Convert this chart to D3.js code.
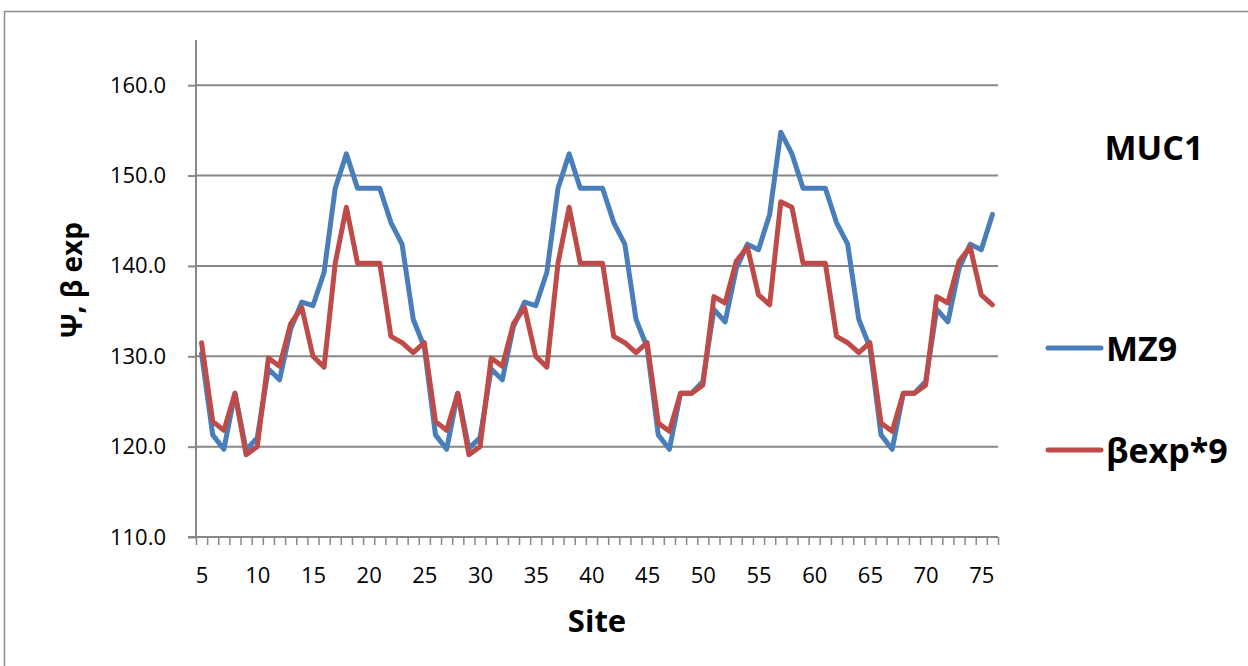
<!DOCTYPE html>
<html>
<head>
<meta charset="utf-8">
<script src="https://cdn.jsdelivr.net/npm/d3@7"></script>
<style>
  html, body { margin: 0; padding: 0; background: #fff; }
  svg { display: block; }
  text { font-family: "Open Sans", "Liberation Sans", sans-serif; fill: #000; }
</style>
</head>
<body>
<svg id="chart" width="1248" height="666"></svg>
<script>
// ---- data ----
const sites = d3.range(5, 77); // 5..76
const mz9 = [
  130.3, 121.3, 119.7, 125.9, 119.6, 121.0, 128.6, 127.4, 133.0, 136.0,
  135.6, 139.3, 148.6, 152.4, 148.6, 148.6, 148.6, 144.8, 142.4, 134.1,
  131.0, 121.3, 119.7, 125.9, 119.8, 121.0, 128.6, 127.4, 133.3, 136.0,
  135.6, 139.3, 148.6, 152.4, 148.6, 148.6, 148.6, 144.8, 142.4, 134.1,
  131.0, 121.3, 119.7, 125.9, 125.9, 127.2, 135.2, 133.8, 139.7, 142.4,
  141.8, 145.7, 154.8, 152.4, 148.6, 148.6, 148.6, 144.8, 142.4, 134.1,
  131.0, 121.3, 119.7, 125.9, 125.9, 127.2, 135.2, 133.8, 139.7, 142.4,
  141.8, 145.7
];
const bexp9 = [
  131.5, 122.8, 121.8, 125.9, 119.1, 120.0, 129.8, 128.9, 133.6, 135.4,
  130.0, 128.8, 140.3, 146.5, 140.3, 140.3, 140.3, 132.2, 131.5, 130.4,
  131.5, 122.8, 121.8, 125.9, 119.1, 120.0, 129.8, 128.9, 133.6, 135.4,
  130.0, 128.8, 140.3, 146.5, 140.3, 140.3, 140.3, 132.2, 131.5, 130.4,
  131.5, 122.6, 121.7, 125.9, 125.9, 126.8, 136.6, 135.9, 140.5, 142.1,
  136.8, 135.7, 147.1, 146.5, 140.3, 140.3, 140.3, 132.2, 131.5, 130.4,
  131.5, 122.6, 121.7, 125.9, 125.9, 126.8, 136.6, 135.9, 140.5, 142.1,
  136.8, 135.7
];
const yTicks = [110, 120, 130, 140, 150, 160];
const xTickLabels = [5, 10, 15, 20, 25, 30, 35, 40, 45, 50, 55, 60, 65, 70, 75];
const seriesNames = ["MZ9", "βexp*9"];
const seriesColors = ["#4a7ebb", "#be4b48"];
const chartTitle = "MUC1";
const xTitle = "Site";
const yTitle = "Ψ, β exp";

// ---- layout ----
const svg = d3.select("#chart");
const plotL = 196, plotR = 998, plotT = 40, plotB = 537;

const x = d3.scaleLinear().domain([4.5, 76.5]).range([plotL, plotR]);
const y = d3.scaleLinear().domain([110, 165]).range([plotB, plotT]);

// outer border
svg.append("rect")
  .attr("x", 4.5).attr("y", 11.5)
  .attr("width", 1260).attr("height", 680)
  .attr("fill", "none").attr("stroke", "#8c8c8c").attr("stroke-width", 1.5);

// gridlines
svg.append("g").selectAll("line").data(yTicks.filter(t => t !== 110)).join("line")
  .attr("x1", plotL).attr("x2", plotR)
  .attr("y1", d => y(d)).attr("y2", d => y(d))
  .attr("stroke", "#878787").attr("stroke-width", 2);

// y axis
const yAxis = d3.axisLeft(y).tickValues(yTicks).tickSize(8).tickPadding(22)
  .tickFormat(d3.format(".1f"));
const gy = svg.append("g").attr("transform", `translate(${plotL},0)`).call(yAxis);
gy.select(".domain").attr("stroke", "#878787").attr("stroke-width", 2)
  .attr("d", `M-8,${plotB}H0V${plotT}`);
gy.selectAll(".tick line").attr("stroke", "#878787").attr("stroke-width", 2);
gy.selectAll(".tick text").attr("font-size", 22).attr("font-family", "Open Sans").attr("fill", "#000");

// x axis: category ticks at boundaries
const boundaries = d3.range(4.5, 77, 1);
const xAxisTicks = d3.axisBottom(x).tickValues(boundaries).tickSize(8).tickFormat("");
const gx = svg.append("g").attr("transform", `translate(0,${plotB})`).call(xAxisTicks);
gx.select(".domain").attr("stroke", "#878787").attr("stroke-width", 2)
  .attr("d", `M${plotL},0H${plotR}`);
gx.selectAll(".tick line").attr("stroke", "#878787").attr("stroke-width", 1.5);

const xLabels = d3.axisBottom(x).tickValues(xTickLabels).tickSize(0).tickPadding(30);
const gxl = svg.append("g").attr("transform", `translate(0,${plotB})`).call(xLabels);
gxl.select(".domain").remove();
gxl.selectAll(".tick text").attr("font-size", 22).attr("font-family", "Open Sans").attr("fill", "#000");

// lines
const series = [mz9, bexp9];
const line = d3.line().x((d, i) => x(sites[i])).y(d => y(d));
series.forEach((s, k) => {
  svg.append("path").datum(s)
    .attr("d", line)
    .attr("fill", "none")
    .attr("stroke", seriesColors[k])
    .attr("stroke-width", 5)
    .attr("stroke-linejoin", "round")
    .attr("stroke-linecap", "round");
});

// titles
svg.append("text").attr("x", 597).attr("y", 632)
  .attr("text-anchor", "middle").attr("font-weight", "bold").attr("font-size", 31)
  .text(xTitle);

svg.append("text")
  .attr("transform", "translate(82,280) rotate(-90)")
  .attr("text-anchor", "middle").attr("font-weight", "bold").attr("font-size", 28)
  .text(yTitle);

svg.append("text").attr("x", 1154).attr("y", 160)
  .attr("text-anchor", "middle").attr("font-weight", "bold").attr("font-size", 34)
  .text(chartTitle);

// legend
const legendY = [348, 450];
seriesNames.forEach((n, k) => {
  svg.append("line")
    .attr("x1", 1048).attr("x2", 1101)
    .attr("y1", legendY[k]).attr("y2", legendY[k])
    .attr("stroke", seriesColors[k]).attr("stroke-width", 5)
    .attr("stroke-linecap", "round");
  svg.append("text").attr("x", 1106).attr("y", legendY[k] + 13)
    .attr("font-weight", "bold").attr("font-size", 34)
    .text(n);
});
</script>
</body>
</html>
